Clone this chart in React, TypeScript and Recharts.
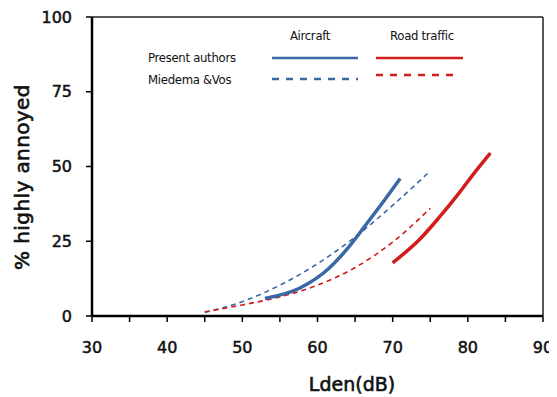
import React from "react";
import { LineChart, Line, XAxis, YAxis, ReferenceLine } from "recharts";

const aircraftPresentLden = [53, 57.6, 61.5, 64.2, 66.4, 68.6, 71];
const aircraftPresentHA = [5.9, 9.3, 15.9, 23.2, 30.4, 37.7, 46];

const aircraftMiedemaLden = [45, 50, 55, 60, 65, 70, 75];
const aircraftMiedemaHA = [1.2, 4.8, 10.3, 17.5, 26.4, 37, 48.5];

const roadPresentLden = [70, 73.5, 76.1, 78.8, 81, 83];
const roadPresentHA = [17.8, 25.4, 32.7, 41, 48.3, 54.5];

const roadMiedemaLden = [45, 50, 55, 60, 65, 70, 75];
const roadMiedemaHA = [1.4, 3.7, 6.4, 10.3, 16.2, 24.7, 36];

const xTicks = [30, 35, 40, 45, 50, 55, 60, 65, 70, 75, 80, 85, 90];
const yTicks = [0, 25, 50, 75, 100];

const BLUE = "#3a67a5";
const RED = "#d31c1c";

const toPoints = (xs: number[], ys: number[]) => xs.map((x, i) => ({ x, y: ys[i] }));

const tickFont = {
  fontFamily: "DejaVu Sans",
  fontSize: 16,
  fill: "#111",
  stroke: "#111",
  strokeWidth: 0.5,
};
const legendFont = "'Liberation Sans Narrow', 'DejaVu Sans Condensed', sans-serif";

const W = 549;
const H = 389;

export default function App() {
  return (
    <div style={{ position: "relative", width: W, height: H, background: "#fff" }}>
      <LineChart width={W} height={H} margin={{ top: 9, right: 14, left: 24, bottom: 1 }}>
        <XAxis
          type="number"
          dataKey="x"
          domain={[30, 90]}
          ticks={xTicks}
          tickFormatter={(v: number) => (v % 10 === 0 ? String(v) : "")}
          axisLine={{ stroke: "#000", strokeWidth: 2.5 }}
          tickLine={{ stroke: "#000", strokeWidth: 1.5 }}
          tickSize={6}
          tickMargin={20}
          tick={tickFont}
          height={80}
          label={() => (
            <text
              x={344}
              y={383}
              textAnchor="middle"
              fontFamily="DejaVu Sans"
              fontSize={19}
              fill="#111"
              stroke="#111"
              strokeWidth={0.6}
            >
              Lden(dB)
            </text>
          )}
        />
        <YAxis
          type="number"
          domain={[0, 100]}
          ticks={yTicks}
          axisLine={{ stroke: "#000", strokeWidth: 2.5 }}
          tickLine={{ stroke: "#000", strokeWidth: 1.5 }}
          tickSize={6}
          tickMargin={14}
          tick={tickFont}
          width={60}
          label={() => (
            <text
              x={14}
              y={169}
              transform="rotate(-90 14 169)"
              textAnchor="middle"
              dominantBaseline="central"
              fontFamily="DejaVu Sans"
              fontSize={20}
              letterSpacing={0.4}
              fill="#111"
              stroke="#111"
              strokeWidth={0.6}
            >
              % highly annoyed
            </text>
          )}
        />
        <ReferenceLine y={100} stroke="#222" strokeWidth={1.5} />
        <ReferenceLine x={90} stroke="#222" strokeWidth={1.5} />
        <Line
          data={toPoints(aircraftMiedemaLden, aircraftMiedemaHA)}
          dataKey="y"
          type="monotone"
          stroke={BLUE}
          strokeWidth={1.6}
          strokeDasharray="5 4"
          dot={false}
          isAnimationActive={false}
        />
        <Line
          data={toPoints(roadMiedemaLden, roadMiedemaHA)}
          dataKey="y"
          type="monotone"
          stroke={RED}
          strokeWidth={1.6}
          strokeDasharray="5 4"
          dot={false}
          isAnimationActive={false}
        />
        <Line
          data={toPoints(aircraftPresentLden, aircraftPresentHA)}
          dataKey="y"
          type="monotone"
          stroke={BLUE}
          strokeWidth={3.5}
          dot={false}
          isAnimationActive={false}
        />
        <Line
          data={toPoints(roadPresentLden, roadPresentHA)}
          dataKey="y"
          type="monotone"
          stroke={RED}
          strokeWidth={3.5}
          dot={false}
          isAnimationActive={false}
        />
      </LineChart>
      <svg width={W} height={H} style={{ position: "absolute", left: 0, top: 0, pointerEvents: "none" }}>
        <g fontFamily={legendFont} fontSize={13} letterSpacing={-0.3} fill="#111">
          <text x={302} y={32} textAnchor="middle">Aircraft</text>
          <text x={414} y={32} textAnchor="middle">Road traffic</text>
          <text x={140} y={54}>Present authors</text>
          <text x={140} y={76}>Miedema &amp;Vos</text>
        </g>
        <line x1={264} x2={350} y1={50} y2={50} stroke={BLUE} strokeWidth={2.5} />
        <line x1={264} x2={350} y1={71} y2={71} stroke={BLUE} strokeWidth={2.5} strokeDasharray="7 7" />
        <line x1={368} x2={455} y1={50} y2={50} stroke={RED} strokeWidth={2.5} />
        <line x1={368} x2={452} y1={67} y2={67} stroke={RED} strokeWidth={2.5} strokeDasharray="7 7" />
      </svg>
    </div>
  );
}
